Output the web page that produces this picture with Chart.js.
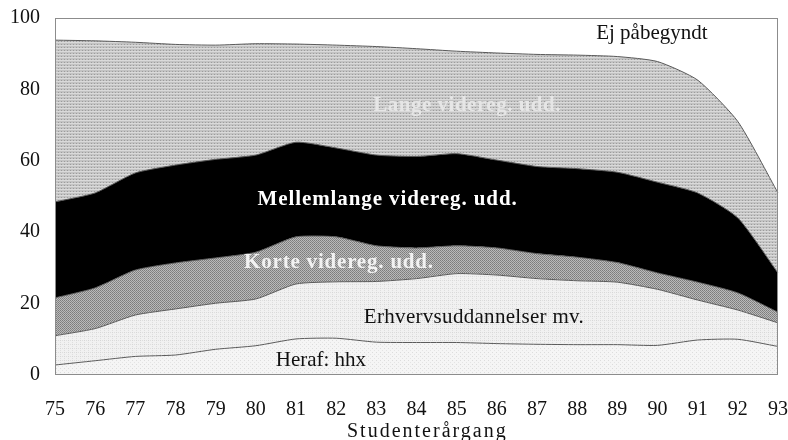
<!DOCTYPE html>
<html>
<head>
<meta charset="utf-8">
<script src="https://cdn.jsdelivr.net/npm/chart.js@4/dist/chart.umd.min.js"></script>
<style>
  html, body { margin: 0; padding: 0; background: #fff; }
  canvas { display: block; }
</style>
</head>
<body>
<canvas id="wykres" width="788" height="440"></canvas>
<script>
// studenterårgang (x-akse)
const years = ['75','76','77','78','79','80','81','82','83','84','85','86','87','88','89','90','91','92','93'];

// andele i procent, lag nedefra og op
const hhx          = [2.8, 4.0, 5.2, 5.6, 7.2, 8.2, 10.1, 10.3, 9.2, 9.1, 9.1, 8.8, 8.6, 8.5, 8.5, 8.3, 9.8, 10.0, 8.0];
const erhverv      = [8.2, 9.0, 11.6, 12.9, 12.9, 13.1, 15.4, 15.8, 17.0, 17.9, 19.3, 19.2, 18.4, 17.9, 17.5, 15.7, 11.2, 8.2, 6.6];
const korte        = [10.6, 11.4, 12.6, 12.9, 12.7, 13.1, 13.2, 12.6, 10.0, 8.6, 7.8, 7.6, 7.0, 6.6, 5.5, 4.6, 5.0, 4.8, 3.0];
const mellemlange  = [26.9, 26.6, 27.2, 27.4, 27.6, 27.2, 26.5, 24.9, 25.4, 25.6, 25.8, 24.6, 24.4, 24.8, 25.3, 25.4, 25.0, 21.0, 11.0];
const lange        = [45.3, 42.6, 36.6, 33.8, 32.0, 31.2, 27.5, 28.8, 30.4, 30.2, 28.7, 30.0, 31.4, 31.8, 32.4, 33.8, 31.6, 27.0, 22.4];
const ejPaabegyndt = [6.2, 6.4, 6.8, 7.4, 7.6, 7.2, 7.3, 7.6, 8.0, 8.6, 9.3, 9.8, 10.2, 10.4, 10.8, 12.2, 17.4, 29.0, 49.0];

const yTicks = [0, 20, 40, 60, 80, 100];

const canvas = document.getElementById('wykres');
const ctx = canvas.getContext('2d');

// raster-mønstre som i den trykte figur
function raster(size, base, dots) {
  const c = document.createElement('canvas');
  c.width = size; c.height = size;
  const g = c.getContext('2d');
  g.fillStyle = base;
  g.fillRect(0, 0, size, size);
  dots.forEach(d => { g.fillStyle = d[2]; g.fillRect(d[0], d[1], 1, 1); });
  return ctx.createPattern(c, 'repeat');
}

const fillLange = raster(3, '#c3c3c3', [[0,0,'#dadada'],[1,0,'#dadada'],[2,0,'#dadada'],[1,2,'#9c9c9c']]);
const fillKorte = raster(2, '#bababa', [[0,0,'#7c7c7c'],[1,1,'#888888']]);
const fillErhverv = raster(4, '#f1f1f1', [[0,0,'#d6d6d6'],[2,0,'#dedede'],[0,2,'#dedede']]);
const fillHhx = raster(4, '#f5f5f5', [[0,0,'#dcdcdc'],[2,2,'#e4e4e4']]);

const serif = '"Liberation Serif", "DejaVu Serif", serif';

// ramme om plotområdet
const ramme = {
  id: 'ramme',
  afterDatasetsDraw(chart) {
    const a = chart.chartArea;
    const c = chart.ctx;
    c.save();
    c.strokeStyle = '#8c8c8c';
    c.lineWidth = 1;
    c.strokeRect(a.left + 0.5, a.top + 0.5, a.right - a.left - 1, a.bottom - a.top - 1);
    c.restore();
  }
};

// tekster inde i figuren + aksetitel
const etiketter = {
  id: 'etiketter',
  afterDraw(chart) {
    const x = chart.scales.x, y = chart.scales.y, c = chart.ctx;
    const tekster = [
      { t: 'Ej påbegyndt', i: 14.86, v: 95.6, f: '21px ' + serif, col: '#111', ls: 0 },
      { t: 'Lange videreg. udd.', i: 10.26, v: 75.6, f: 'bold 21px ' + serif, col: '#e6e6e6', ls: 0.5 },
      { t: 'Mellemlange videreg. udd.', i: 8.28, v: 49.0, f: 'bold 21px ' + serif, col: '#ffffff', ls: 0.9 },
      { t: 'Korte videreg. udd.', i: 7.07, v: 31.4, f: 'bold 21px ' + serif, col: '#f2f2f2', ls: 0.8 },
      { t: 'Erhvervsuddannelser mv.', i: 10.43, v: 16.2, f: '21px ' + serif, col: '#111', ls: 0.3 },
      { t: 'Heraf: hhx', i: 6.62, v: 4.2, f: '21px ' + serif, col: '#111', ls: 0 }
    ];
    c.save();
    c.textAlign = 'center';
    c.textBaseline = 'middle';
    tekster.forEach(e => {
      c.font = e.f;
      c.letterSpacing = e.ls + 'px';
      c.fillStyle = e.col;
      c.fillText(e.t, x.getPixelForValue(e.i), y.getPixelForValue(e.v));
    });
    c.font = '20px ' + serif;
    c.letterSpacing = '2px';
    c.fillStyle = '#111';
    c.fillText('Studenterårgang', x.getPixelForValue(9.27), 432);
    c.restore();
  }
};

function lag(label, data, fill, bg) {
  return {
    label: label,
    data: data,
    fill: fill,
    backgroundColor: bg,
    borderColor: '#5a5a5a',
    borderWidth: 1,
    pointRadius: 0,
    tension: 0.2
  };
}

new Chart(ctx, {
  type: 'line',
  data: {
    labels: years,
    datasets: [
      lag('Heraf: hhx', hhx, 'origin', fillHhx),
      lag('Erhvervsuddannelser mv.', erhverv, '-1', fillErhverv),
      lag('Korte videreg. udd.', korte, '-1', fillKorte),
      lag('Mellemlange videreg. udd.', mellemlange, '-1', '#000000'),
      lag('Lange videreg. udd.', lange, '-1', fillLange),
      lag('Ej påbegyndt', ejPaabegyndt, '-1', '#ffffff')
    ]
  },
  options: {
    responsive: false,
    animation: false,
    devicePixelRatio: 1,
    layout: { padding: { left: 10, right: 10, top: 18, bottom: 0 } },
    plugins: {
      legend: { display: false },
      tooltip: { enabled: false }
    },
    scales: {
      x: {
        offset: false,
        grid: { display: false, drawTicks: false },
        border: { display: false },
        ticks: {
          color: '#111',
          font: { family: serif, size: 20 },
          padding: 23,
          maxRotation: 0,
          autoSkip: false
        },
        afterFit(axis) {
          axis.height = 65;
          axis.paddingLeft = 0;
          axis.paddingRight = 0;
        }
      },
      y: {
        stacked: true,
        min: 0,
        max: 100,
        afterBuildTicks(axis) { axis.ticks = yTicks.map(v => ({ value: v })); },
        grid: { display: false, drawTicks: false },
        border: { display: false },
        ticks: {
          color: '#111',
          font: { family: serif, size: 20 },
          padding: 15
        },
        afterFit(axis) {
          axis.width = 45;
          axis.paddingTop = 0;
          axis.paddingBottom = 0;
        }
      }
    }
  },
  plugins: [ramme, etiketter]
});
</script>
</body>
</html>
